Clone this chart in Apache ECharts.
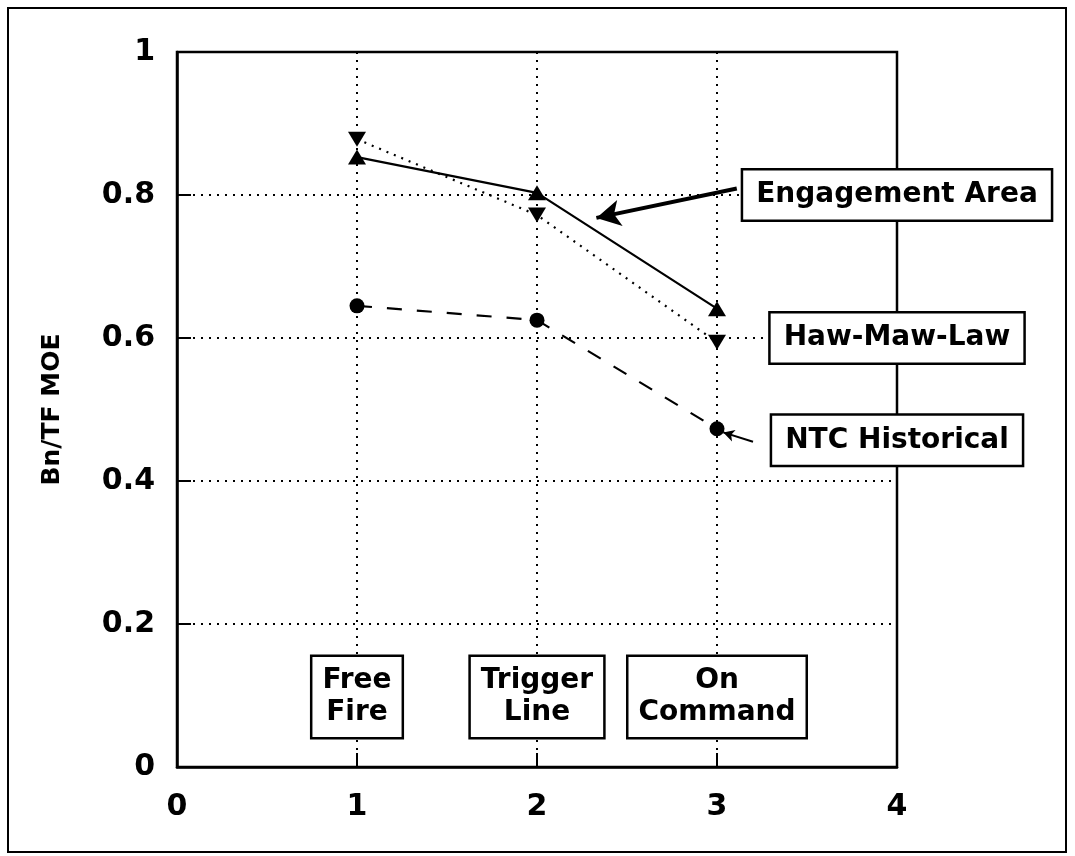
<!DOCTYPE html>
<html>
<head>
<meta charset="utf-8">
<title>Bn/TF MOE</title>
<script src="https://cdn.jsdelivr.net/npm/echarts@6/dist/echarts.min.js"></script>
<style>
html, body { margin: 0; padding: 0; background: #fff; }
#graph { width: 1075px; height: 856px; }
</style>
</head>
<body>
<div id="graph"></div>
<script>
// data
const xValues = [1, 2, 3];
const engagementArea = [0.853, 0.803, 0.641];
const hawMawLaw = [0.878, 0.772, 0.594];
const ntcHistorical = [0.645, 0.625, 0.473];
const seriesNames = ['Engagement Area', 'Haw-Maw-Law', 'NTC Historical'];
const methodLabels = ['Free\nFire', 'Trigger\nLine', 'On\nCommand'];
const xRange = [0, 4];
const yRange = [0, 1];

// where the callout boxes / arrows sit, in data units
const calloutAt = [[4, 0.8], [4, 0.6], [4, 0.457]];
const methodLabelY = 0.098;
const engArrow = [[3.11, 0.809], [2.33, 0.768]];
const ntcArrow = [[3.2, 0.455], [3.035, 0.468]];

const FONT = 'DejaVu Sans';

function pairs (ys) {
  return xValues.map(function (x, i) { return [x, ys[i]]; });
}

// boxed text label used for callouts
function boxLabel (size, lh, pad) {
  return {
    show: true,
    position: 'inside',
    formatter: '{b}',
    color: '#000',
    fontFamily: FONT,
    fontWeight: 'bold',
    fontSize: size,
    lineHeight: lh,
    align: 'center',
    backgroundColor: '#fff',
    borderColor: '#000',
    borderWidth: 2.5,
    padding: pad
  };
}

function calloutPoint (i) {
  return {
    symbol: 'rect',
    symbolSize: 1,
    silent: true,
    itemStyle: { color: 'rgba(0,0,0,0)' },
    label: boxLabel(28, 32, [9, 13, 8, 13]),
    data: [{ name: seriesNames[i], coord: calloutAt[i] }]
  };
}

function arrowLine (pts, width, head) {
  return {
    silent: true,
    symbol: ['none', 'arrow'],
    symbolSize: head,
    label: { show: false },
    lineStyle: { color: '#000', width: width, type: 'solid' },
    data: [[{ coord: pts[0] }, { coord: pts[1] }]]
  };
}

const chart = echarts.init(document.getElementById('graph'));

const option = {
  animation: false,
  backgroundColor: '#fff',
  grid: {
    left: 177,
    right: 178,
    top: 52,
    bottom: 89,
    show: true,
    borderColor: '#000',
    borderWidth: 2.5
  },
  xAxis: {
    type: 'value',
    min: xRange[0],
    max: xRange[1],
    interval: 1,
    axisLine: { lineStyle: { color: '#000', width: 2.5 } },
    axisTick: { show: true, inside: true, length: 14, lineStyle: { color: '#000', width: 2 } },
    axisLabel: { margin: 25, color: '#000', fontFamily: FONT, fontWeight: 'bold', fontSize: 30 },
    splitLine: { show: true, lineStyle: { color: '#000', width: 2, type: [2, 6] } }
  },
  yAxis: {
    type: 'value',
    min: yRange[0],
    max: yRange[1],
    interval: 0.2,
    name: 'Bn/TF MOE',
    nameLocation: 'middle',
    nameGap: 112,
    nameTextStyle: { color: '#000', fontFamily: FONT, fontWeight: 'bold', fontSize: 25 },
    axisLine: { lineStyle: { color: '#000', width: 2.5 } },
    axisTick: { show: true, inside: true, length: 14, lineStyle: { color: '#000', width: 2 } },
    axisLabel: { margin: 22, color: '#000', fontFamily: FONT, fontWeight: 'bold', fontSize: 30 },
    splitLine: { show: true, lineStyle: { color: '#000', width: 2, type: [2, 6] } }
  },
  series: [
    {
      name: seriesNames[0],
      type: 'line',
      data: pairs(engagementArea),
      symbol: 'triangle',
      symbolSize: [18, 15],
      itemStyle: { color: '#000' },
      lineStyle: { color: '#000', width: 2.2 },
      z: 3,
      markPoint: calloutPoint(0),
      markLine: arrowLine(engArrow, 4, [20, 24])
    },
    {
      name: seriesNames[1],
      type: 'line',
      data: pairs(hawMawLaw),
      symbol: 'triangle',
      symbolRotate: 180,
      symbolSize: [18, 15],
      itemStyle: { color: '#000' },
      lineStyle: { color: '#000', width: 2.2, type: [2, 6] },
      z: 3,
      markPoint: calloutPoint(1)
    },
    {
      name: seriesNames[2],
      type: 'line',
      data: pairs(ntcHistorical),
      symbol: 'circle',
      symbolSize: 15,
      itemStyle: { color: '#000' },
      lineStyle: { color: '#000', width: 2.2, type: [15, 15] },
      z: 3,
      markPoint: calloutPoint(2),
      markLine: arrowLine(ntcArrow, 2, [9, 11])
    },
    {
      // the three method boxes along the bottom
      name: 'methods',
      type: 'scatter',
      data: [],
      markPoint: {
        symbol: 'rect',
        symbolSize: 1,
        silent: true,
        itemStyle: { color: 'rgba(0,0,0,0)' },
        label: boxLabel(28, 32, [8, 10, 8, 10]),
        data: methodLabels.map(function (t, i) {
          return { name: t, coord: [xValues[i], methodLabelY] };
        })
      }
    }
  ],
  // outer frame of the figure
  graphic: [{
    type: 'rect',
    shape: { x: 8, y: 8, width: 1058, height: 844 },
    style: { fill: 'none', stroke: '#000', lineWidth: 2 },
    silent: true
  }]
};

chart.setOption(option);
window.addEventListener('resize', function () {
  chart.resize();
});
</script>
</body>
</html>
